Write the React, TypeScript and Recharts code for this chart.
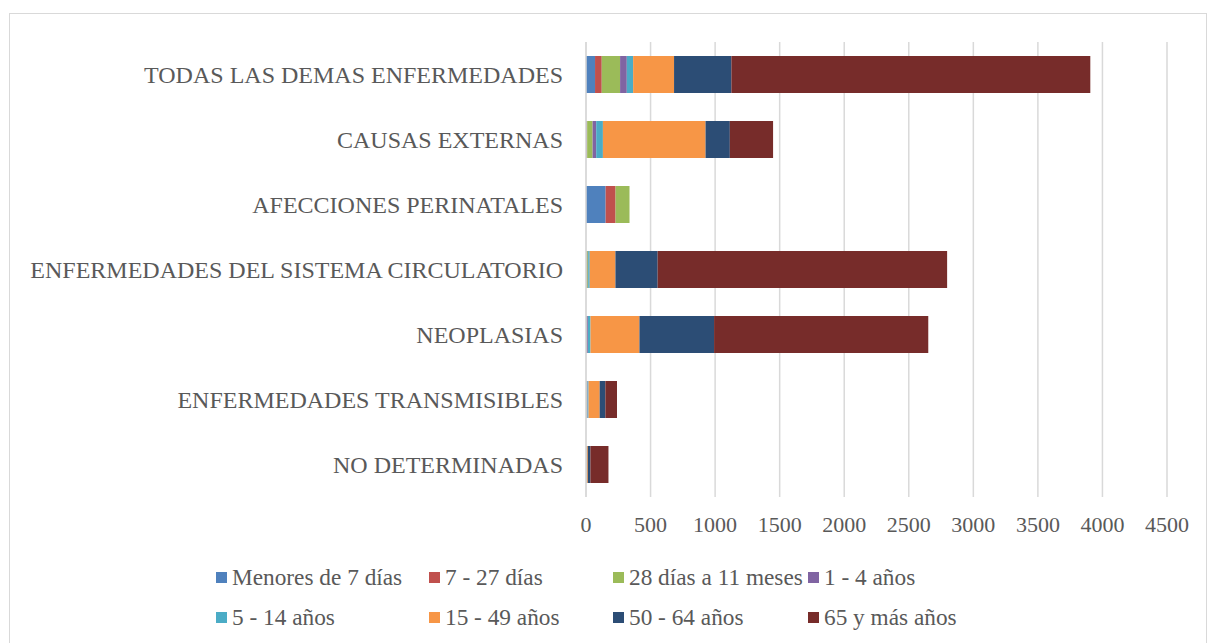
import React from 'react';
import { BarChart, Bar, XAxis, YAxis, CartesianGrid, Legend } from 'recharts';

const categories = [
  'TODAS LAS DEMAS ENFERMEDADES',
  'CAUSAS EXTERNAS',
  'AFECCIONES PERINATALES',
  'ENFERMEDADES DEL SISTEMA CIRCULATORIO',
  'NEOPLASIAS',
  'ENFERMEDADES TRANSMISIBLES',
  'NO DETERMINADAS',
];

const menores7 = [70, 5, 152, 2, 5, 3, 1];
const dias7a27 = [52, 4, 77, 2, 2, 2, 1];
const dias28a11m = [142, 42, 108, 10, 2, 3, 1];
const anios1a4 = [52, 28, 0, 3, 6, 4, 1];
const anios5a14 = [49, 52, 0, 12, 20, 8, 2];
const anios15a49 = [317, 795, 0, 199, 379, 86, 8];
const anios50a64 = [444, 188, 0, 327, 578, 44, 20];
const anios65mas = [2780, 335, 0, 2242, 1659, 90, 140];

const xTicks = [0, 500, 1000, 1500, 2000, 2500, 3000, 3500, 4000, 4500];

const series = [
  { key: 'm7', name: 'Menores de 7 días', values: menores7, color: '#4f81bd' },
  { key: 'd27', name: '7 - 27 días', values: dias7a27, color: '#c0504d' },
  { key: 'd28', name: '28 días a 11 meses', values: dias28a11m, color: '#9bbb59' },
  { key: 'a14', name: '1 - 4 años', values: anios1a4, color: '#8064a2' },
  { key: 'a514', name: '5 - 14 años', values: anios5a14, color: '#4bacc6' },
  { key: 'a1549', name: '15 - 49 años', values: anios15a49, color: '#f79646' },
  { key: 'a5064', name: '50 - 64 años', values: anios50a64, color: '#2c4d75' },
  { key: 'a65', name: '65 y más años', values: anios65mas, color: '#772c2a' },
];

const data = categories.map((cat, i) => {
  const row: Record<string, string | number> = { cat };
  series.forEach((s) => {
    row[s.key] = s.values[i];
  });
  return row;
});

const FONT = '"Liberation Serif", "Times New Roman", serif';
const TEXT = '#595959';
const legendCols = [206, 419, 603, 798];

function LegendBox() {
  return (
    <div style={{ position: 'relative', width: 1196, height: 80, fontFamily: FONT, fontSize: 23.3, color: TEXT }}>
      {series.map((s, i) => (
        <div
          key={s.key}
          style={{
            position: 'absolute',
            left: legendCols[i % 4],
            top: Math.floor(i / 4) * 40,
            height: 40,
            display: 'flex',
            alignItems: 'center',
            whiteSpace: 'nowrap',
          }}
        >
          <span style={{ width: 11, height: 11, background: s.color, marginRight: 5, display: 'inline-block' }} />
          <span>{s.name}</span>
        </div>
      ))}
    </div>
  );
}

export default function App() {
  return (
    <div
      style={{
        position: 'absolute',
        left: 9,
        top: 13,
        width: 1198,
        height: 642,
        border: '1px solid #d9d9d9',
        boxSizing: 'border-box',
        background: '#fff',
      }}
    >
      <BarChart
        width={1196}
        height={640}
        data={data}
        layout="vertical"
        margin={{ top: 28, right: 39, left: 0, bottom: 37 }}
        barCategoryGap="43%"
        style={{ fontFamily: FONT }}
      >
        <CartesianGrid horizontal={false} stroke="#d9d9d9" strokeWidth={1.5} />
        <XAxis
          type="number"
          domain={[0, 4500]}
          ticks={xTicks}
          axisLine={false}
          tickLine={false}
          tickSize={0}
          tickMargin={19}
          height={40}
          tick={{ fill: TEXT, fontSize: 22, fontFamily: FONT }}
        />
        <YAxis
          type="category"
          dataKey="cat"
          width={576}
          axisLine={{ stroke: '#d9d9d9', strokeWidth: 1.5 }}
          tickLine={false}
          tickSize={0}
          tickMargin={23}
          interval={0}
          tick={{ fill: TEXT, fontSize: 24, fontFamily: FONT }}
        />
        <Legend
          verticalAlign="bottom"
          content={() => <LegendBox />}
          wrapperStyle={{ left: 0, top: 543, width: 1196, height: 80 }}
        />
        {series.map((s) => (
          <Bar
            key={s.key}
            dataKey={s.key}
            name={s.name}
            stackId="a"
            fill={s.color}
            barSize={37}
            isAnimationActive={false}
          />
        ))}
      </BarChart>
    </div>
  );
}
